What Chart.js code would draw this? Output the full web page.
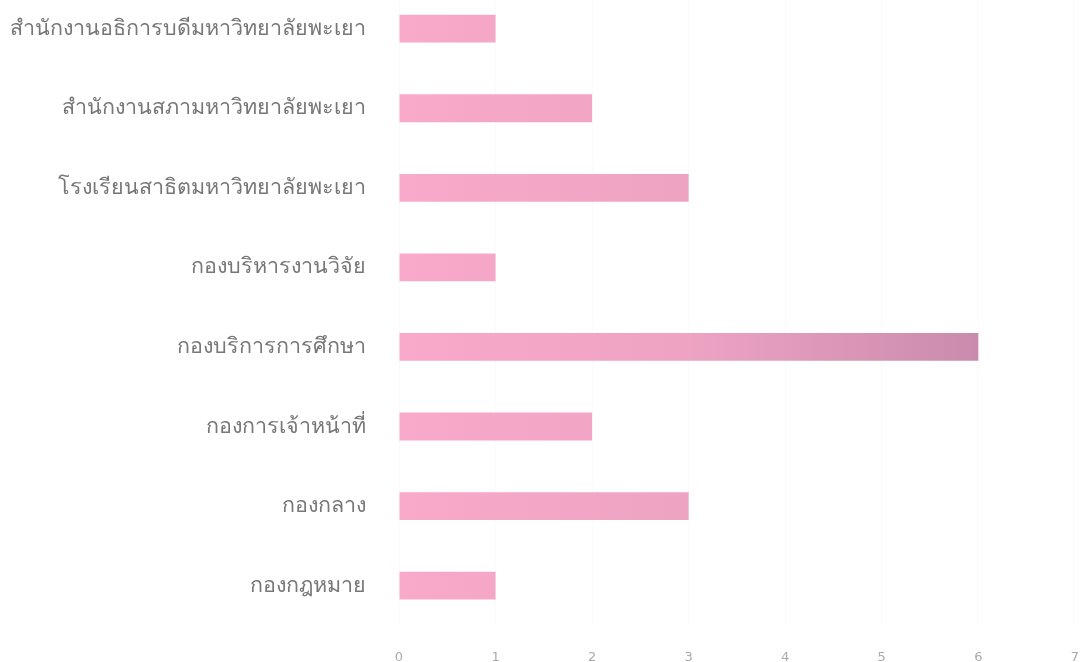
<!DOCTYPE html>
<html>
<head>
<meta charset="utf-8">
<script src="https://cdn.jsdelivr.net/npm/chart.js@4.4.1/dist/chart.umd.min.js"></script>
<style>
  html, body { margin: 0; padding: 0; background: #fff; overflow: hidden; }
  #wrap { position: absolute; left: 0; top: -49px; width: 1103px; height: 738px; }
</style>
</head>
<body>
<div id="wrap"><canvas id="units"></canvas></div>
<script>
// หน่วยงาน
var categories = [
    "สำนักงานอธิการบดีมหาวิทยาลัยพะเยา",
    "สำนักงานสภามหาวิทยาลัยพะเยา",
    "โรงเรียนสาธิตมหาวิทยาลัยพะเยา",
    "กองบริหารงานวิจัย",
    "กองบริการการศึกษา",
    "กองการเจ้าหน้าที่",
    "กองกลาง",
    "กองกฎหมาย"
];
var counts = [1, 2, 3, 1, 6, 2, 3, 1];
var xTicks = [0, 1, 2, 3, 4, 5, 6, 7];

function barFill(ctx) {
    var chart = ctx.chart;
    var area = chart.chartArea;
    if (!area) return "#f5a6c7";
    var x = chart.scales.x;
    var g = chart.ctx.createLinearGradient(x.getPixelForValue(0), 0, x.getPixelForValue(6), 0);
    g.addColorStop(0, "#f9a9ca");
    g.addColorStop(0.5, "#eea3c3");
    g.addColorStop(1, "#c98bad");
    return g;
}

var unitsChart = new Chart(document.getElementById("units"), {
    type: 'bar',
    data: {
        labels: categories,
        datasets: [{
            data: counts,
            backgroundColor: barFill,
            borderWidth: 0,
            barPercentage: 0.7,
            categoryPercentage: 0.5
        }]
    },
    options: {
        indexAxis: 'y',
        responsive: true,
        maintainAspectRatio: false,
        animation: false,
        layout: { padding: { left: 8, right: 10, top: 0, bottom: 0 } },
        plugins: {
            legend: false,
            tooltip: { enabled: false }
        },
        scales: {
            x: {
                min: 0,
                max: 7,
                afterBuildTicks: function (axis) {
                    axis.ticks = xTicks.map(function (v) { return { value: v }; });
                },
                grid: { color: "rgba(0,0,0,0.02)", drawTicks: false },
                border: { display: false },
                ticks: {
                    color: "#aaa",
                    padding: 24,
                    font: { family: "DejaVu Sans", size: 13 }
                }
            },
            y: {
                grid: { display: false },
                border: { display: false },
                afterFit: function (axis) { axis.width = 391; },
                ticks: {
                    color: "#777",
                    padding: 25,
                    font: { family: "Noto Sans", size: 21.5 }
                }
            }
        }
    }
});
</script>
</body>
</html>
